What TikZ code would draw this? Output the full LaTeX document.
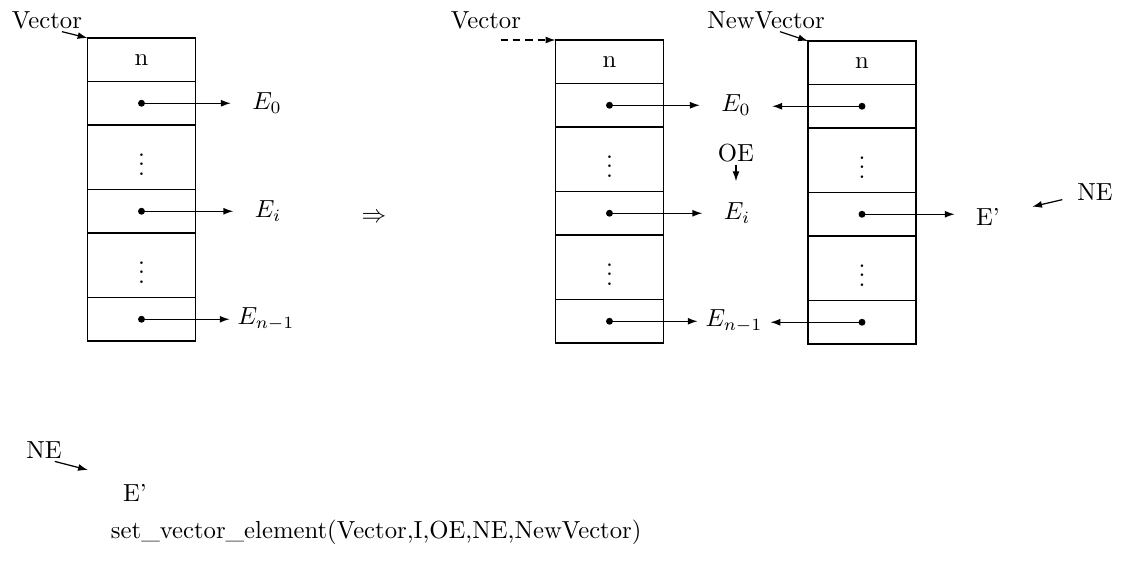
\documentclass[tikz,border=0pt]{standalone}
\usepackage{amsmath}
\usepackage{tikz}
\usetikzlibrary{positioning, arrows.meta}
\newcommand{\px}{0.405pt}
\tikzset{
    % Cell styles
    cell/.style={rectangle, draw, line width=0.75pt, minimum width=108*\px,
                 inner sep=0pt, outer sep=0pt},
    short cell/.style={cell, minimum height=43.5*\px},
    tall cell/.style={cell, minimum height=64.5*\px},
    dot/.style={circle, fill, inner sep=0pt, minimum size=2.8pt},
    % Label styles
    lbl/.style={inner sep=1pt},
    elem/.style={inner xsep=8.5pt, inner ysep=2pt},
    wide elem/.style={elem, inner xsep=3pt},
    % Arrow styles
    ptr/.style={-{Latex[length=4pt, width=2.8pt]}, line width=0.5pt},
}

\begin{document}
\begin{tikzpicture}[x=\px, y=-\px]
    \useasboundingbox (0,0) rectangle (1124,561);

    % The three vectors
    \foreach \v/\x/\y in {L/141.5/38, M/609.5/40, R/862/41} {
        \node[short cell, anchor=north] (\v1) at (\x,\y) {n};
        \node[short cell, below=0pt of \v1] (\v2) {};
        \node[tall cell, below=0pt of \v2] (\v3) {$\vdots$};
        \node[short cell, below=0pt of \v3] (\v4) {};
        \node[tall cell, below=0pt of \v4] (\v5) {$\vdots$};
        \node[short cell, below=0pt of \v5] (\v6) {};
        \foreach \k in {2,4,6}
            \node[dot] (\v\k-dot) at (\v\k) {};
    }

    % Left vector
    \node[lbl] (vecA) at (47,20) {Vector};
    \draw[ptr] ([xshift=15*\px]vecA.south) -- (L1.north west);
    \node[elem] (E0a) at (267,103) {$E_0$};
    \node[elem] (Eia) at (268,211) {$E_i$};
    \node[wide elem] (Ena) at (266,319) {$E_{n-1}$};
    \draw[ptr] (L2.center) -- (L2 -| E0a.west);
    \draw[ptr] (L4.center) -- (L4 -| Eia.west);
    \draw[ptr] (L6.center) -- (L6 -| Ena.west);

    \node (imp) at (374,218) {$\Rightarrow$};

    % Middle vector
    \node[lbl] (vecB) at (486,20) {Vector};
    \draw[ptr, dashed, dash pattern=on 3pt off 2pt] ([xshift=-55*\px]M1.north west) -- (M1.north west);
    \node[elem] (E0b) at (736,105) {$E_0$};
    \node[elem] (Eib) at (737,213) {$E_i$};
    \node[wide elem] (Enb) at (734,321) {$E_{n-1}$};
    \draw[ptr] (M2.center) -- (M2 -| E0b.west);
    \draw[ptr] (M4.center) -- (M4 -| Eib.west);
    \draw[ptr] (M6.center) -- (M6 -| Enb.west);
    \node[lbl] (OE) at (736,153) {OE};
    \draw[ptr, shorten >=6.5pt] (OE) -- (OE |- Eib.north);

    % New vector
    \node[lbl] (vecC) at (766,20) {NewVector};
    \draw[ptr] ([xshift=14*\px]vecC.south) -- (R1.north west);
    \node[elem] (Ep) at (988,217) {E'};
    \draw[ptr] (R2.center) -- (R2 -| E0b.east);
    \draw[ptr] (R4.center) -- (R4 -| Ep.west);
    \draw[ptr] (R6.center) -- (R6 -| Enb.east);
    \node[lbl] (NEa) at (1095,192) {NE};
    \draw[ptr, shorten <=5pt, shorten >=4.5pt] (NEa) -- (Ep);

    % Bottom
    \node[lbl] (NEb) at (44,450) {NE};
    \coordinate (NEtip) at (88,470);
    \draw[ptr] ([xshift=-4pt]NEb.south east) -- (NEtip);
    \node[lbl] (Epb) at (135,493) {E'};
    \node[lbl, anchor=west] (call) at (108,532) {set\_vector\_element(Vector,I,OE,NE,NewVector)};
\end{tikzpicture}
\end{document}
